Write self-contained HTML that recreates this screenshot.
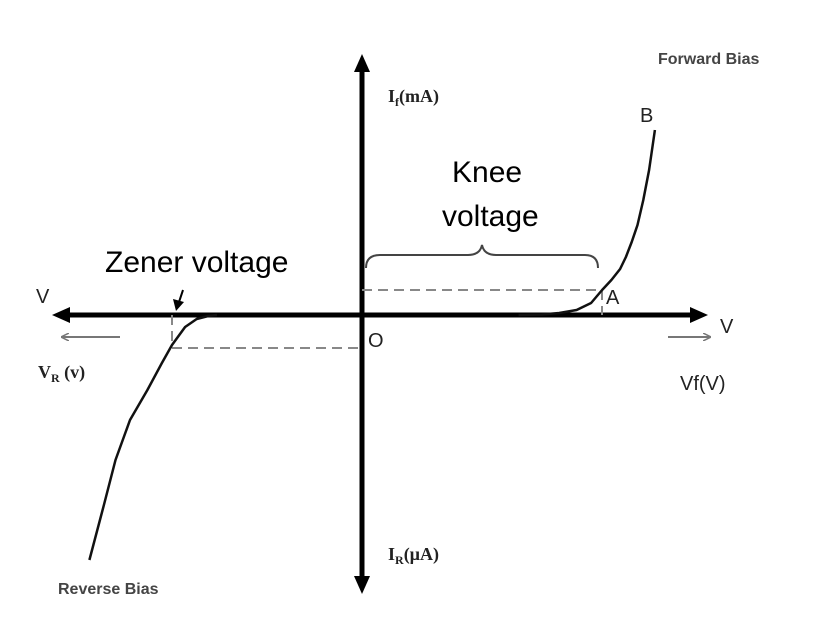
<!DOCTYPE html>
<html><head><meta charset="utf-8"><style>
html,body{margin:0;padding:0;background:#fff;}
svg{display:block;}
</style></head><body>
<svg width="834" height="617" viewBox="0 0 834 617" xmlns="http://www.w3.org/2000/svg">
<defs>
<marker id="gh" markerWidth="8" markerHeight="8" refX="7" refY="4" orient="auto" markerUnits="userSpaceOnUse"><path d="M0,0 L8,4 L0,8" fill="none" stroke="#777" stroke-width="1.5"/></marker>
</defs>
<g id="axes">
<line x1="362" y1="315" x2="66" y2="315" stroke="#000" stroke-width="5"/>
<path d="M52,315 L70,307 L70,323 Z" fill="#000"/>
<line x1="362" y1="315" x2="692" y2="315" stroke="#000" stroke-width="5"/>
<path d="M708,315 L690,307 L690,323 Z" fill="#000"/>
<line x1="362" y1="315" x2="362" y2="68" stroke="#000" stroke-width="5"/>
<path d="M362,54 L354,72 L370,72 Z" fill="#000"/>
<line x1="362" y1="315" x2="362" y2="580" stroke="#000" stroke-width="5"/>
<path d="M362,594 L354,576 L370,576 Z" fill="#000"/>
<line x1="120" y1="337" x2="62" y2="337" stroke="#777" stroke-width="2" marker-end="url(#gh)"/>
<line x1="668" y1="337" x2="710" y2="337" stroke="#777" stroke-width="2" marker-end="url(#gh)"/>
</g>
<g id="guides" stroke="#888" stroke-width="2" fill="none" stroke-dasharray="10,6">
<line x1="362" y1="290" x2="602" y2="290"/>
<line x1="602" y1="290" x2="602" y2="315"/>
<line x1="172" y1="348" x2="362" y2="348"/>
<line x1="172" y1="315" x2="172" y2="348"/>
</g>
<path d="M366,268 Q366,255 380,255 L468,255 Q480,255 482,245 Q484,255 496,255 L585,255 Q598,255 598,268" fill="none" stroke="#444" stroke-width="2"/>
<path d="M183,290 L179,302" stroke="#000" stroke-width="2"/>
<path d="M176,311 L173,299 L184,302 Z" fill="#000"/>
<g id="curves"></g>
<g font-family="Liberation Sans, sans-serif">
<text x="658" y="64" font-size="16" font-weight="bold" fill="#444">Forward Bias</text>
<text x="58" y="594" font-size="16" font-weight="bold" fill="#444">Reverse Bias</text>
<text x="640" y="122" font-size="20" fill="#222">B</text>
<text x="606" y="304" font-size="20" fill="#222">A</text>
<text x="368" y="347" font-size="20" fill="#222">O</text>
<text x="452" y="182" font-size="30" fill="#000">Knee</text>
<text x="442" y="226" font-size="30" fill="#000">voltage</text>
<text x="105" y="272" font-size="30" fill="#000">Zener voltage</text>
<text x="36" y="303" font-size="20" fill="#222">V</text>
<text x="720" y="333" font-size="20" fill="#222">V</text>
<text x="680" y="390" font-size="20" fill="#222">Vf(V)</text>
<text x="38" y="378" font-size="18" font-family="Liberation Serif, serif" font-weight="bold" fill="#222">V<tspan font-size="12" dy="4">R</tspan><tspan dy="-4"> (v)</tspan></text>
<text x="388" y="102" font-size="18" font-family="Liberation Serif, serif" font-weight="bold" fill="#222">I<tspan font-size="12" dy="4">f</tspan><tspan dy="-4">(mA)</tspan></text>
<text x="388" y="560" font-size="18" font-family="Liberation Serif, serif" font-weight="bold" fill="#222">I<tspan font-size="12" dy="4">R</tspan><tspan dy="-4">(µA)</tspan></text>
</g>
</svg>
<script>
// diode I-V values (scaled units)
const fwdV = [0.54, 0.62, 0.68, 0.74, 0.79, 0.828, 0.86, 0.89, 0.91, 0.93, 0.95, 0.97, 0.99, 1.01];
const fwdI = [0, 0.05, 0.2, 0.5, 1.2, 2.5, 3.5, 4.6, 5.8, 7.3, 9, 11.5, 14.5, 18.5];
const revV = [-0.5, -0.53, -0.57, -0.61, -0.655, -0.69, -0.74, -0.8, -0.85, -0.89, -0.94];
const revI = [0, -0.1, -0.4, -1.2, -3, -4.8, -7.5, -10.5, -14.5, -19, -24.5];
function xs(v){ return 362 + v * 290; }
function ys(i){ return 315 - i * 10; }
function draw(vs, is, name){
  const g = document.getElementById('curves');
  const p = document.createElementNS('http://www.w3.org/2000/svg','path');
  let d = '';
  vs.forEach((v,k)=>{ d += (k?' L':'M') + xs(v).toFixed(1) + ',' + ys(is[k]).toFixed(1); });
  p.setAttribute('d', d);
  p.setAttribute('fill','none');
  p.setAttribute('stroke','#111');
  p.setAttribute('stroke-width','2.5');
  p.setAttribute('stroke-linejoin','round');
  
  
  g.appendChild(p);
}
draw(fwdV, fwdI, 'forward-curve');
draw(revV, revI, 'reverse-curve');
</script>
</body></html>
